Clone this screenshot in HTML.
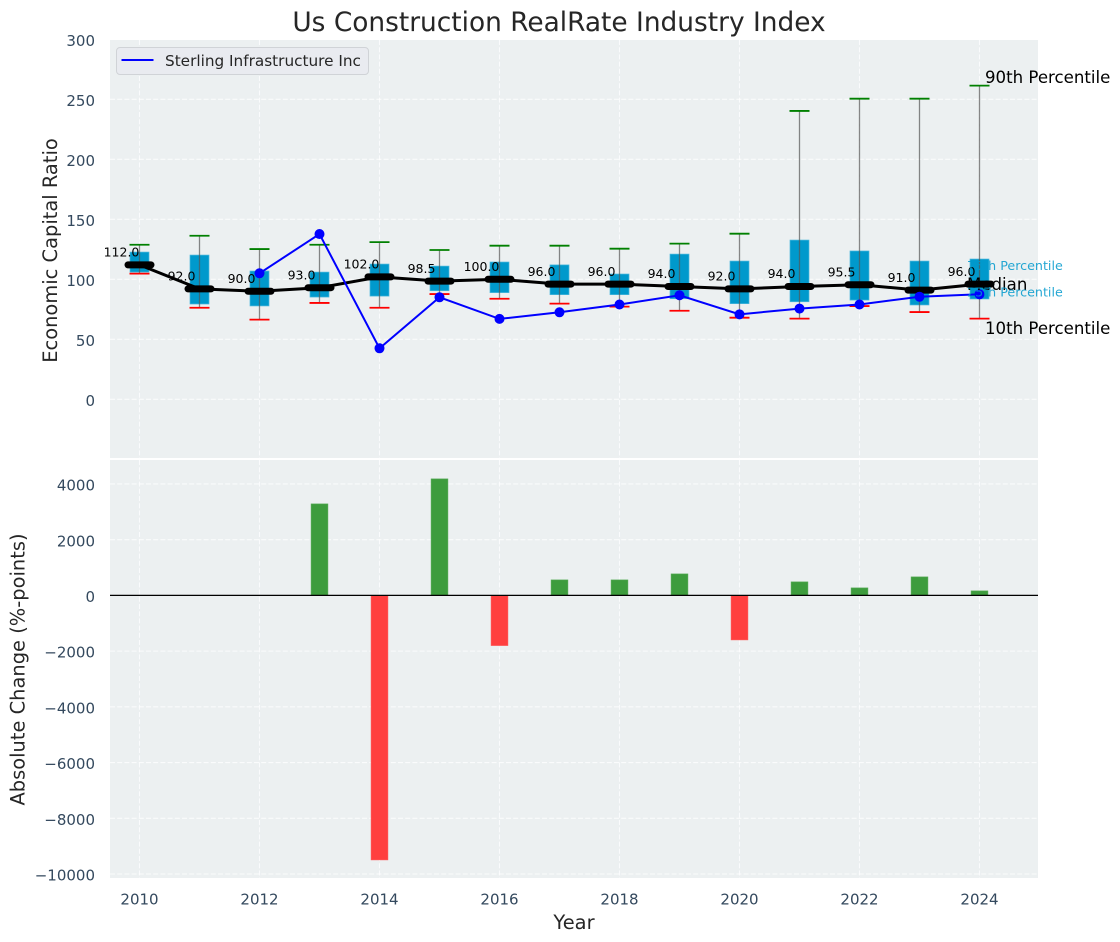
<!DOCTYPE html>
<html lang="en">
<head>
<meta charset="utf-8">
<title>Us Construction RealRate Industry Index</title>
<style>
html,body{margin:0;padding:0;background:#fff;}
svg{display:block;font-family:"DejaVu Sans","Liberation Sans",sans-serif;}
</style>
</head>
<body>
<svg id="chart" xmlns="http://www.w3.org/2000/svg" width="1120" height="942" viewBox="0 0 1120 942">
  <rect x="0" y="0" width="1120" height="942" fill="#ffffff"/>
  <rect x="110" y="40" width="928" height="418" fill="#ecf0f1"/>
  <rect x="110" y="460" width="928" height="418" fill="#ecf0f1"/>
  <g id="grid"></g>
  <g id="bars"></g>
  <line x1="110" x2="1038" y1="595.4" y2="595.4" stroke="#000" stroke-width="1.3"/>
  <g id="boxes"></g>
  <g id="median"></g>
  <g id="company"></g>
  <g id="labels"></g>
  <g id="ticks"></g>

  <text x="559" y="31" text-anchor="middle" font-size="26.4" fill="#262626">Us Construction RealRate Industry Index</text>
  <text transform="translate(57,250.5) rotate(-90)" text-anchor="middle" font-size="19.44" fill="#262626">Economic Capital Ratio</text>
  <text transform="translate(24.5,669.5) rotate(-90)" text-anchor="middle" font-size="19.44" fill="#262626">Absolute Change (%-points)</text>
  <text x="574" y="929" text-anchor="middle" font-size="19.44" fill="#262626">Year</text>

  <text x="985" y="83" font-size="16.6" fill="#000">90th Percentile</text>
  <text x="967" y="270" font-size="12.7" fill="#0099cc" fill-opacity="0.85">75th Percentile</text>
  <text x="967" y="290" font-size="16.6" fill="#000">Median</text>
  <text x="967" y="296.5" font-size="12.7" fill="#0099cc" fill-opacity="0.85">25th Percentile</text>
  <text x="985" y="334" font-size="16.6" fill="#000">10th Percentile</text>

  <g>
    <rect x="116.5" y="47.5" width="252" height="27" rx="3.5" fill="#e9ebf0" stroke="#d0d3d7" stroke-width="1"/>
    <line x1="121.5" x2="153.5" y1="60" y2="60" stroke="#0000ff" stroke-width="2"/>
    <text x="165" y="66" font-size="15.28" fill="#262626">Sterling Infrastructure Inc</text>
  </g>
</svg>
<script>
const years = [2010,2011,2012,2013,2014,2015,2016,2017,2018,2019,2020,2021,2022,2023,2024];
const p90 = [128.8,136.3,125.2,128.8,131,124.4,128,128,125.5,129.7,138,240.3,250.5,250.5,261.4];
const p75 = [122.7,120.2,106.9,106,112.7,111,114.4,112,104.4,121,115.2,132.7,123.6,115.2,116.9];
const medianValues = [112,92,90,93,102,98.5,100,96,96,94,92,94,95.5,91,96];
const p25 = [106,79.4,77.8,85.2,86,90.5,88.9,87.2,87.2,83.8,79.7,81.3,82.7,78.6,83.6];
const p10 = [104.7,76.3,66.4,80.3,76.3,87.7,83.8,79.7,77.2,73.8,68,67.2,77.7,72.7,67.2];
const companyValues = [null,null,105,137.7,42.5,85,67,72.5,79,86.7,70.8,75.6,79,85.5,87.5];
const changeValues = [0,0,0,3284,-9494,4182,-1800,556,556,771,-1597,485,269,664,162];
const xTicks = [2010,2012,2014,2016,2018,2020,2022,2024];
const yTopTicks = [0,50,100,150,200,250,300];
const yBottomTicks = [-10000,-8000,-6000,-4000,-2000,0,2000,4000];

const NS = 'http://www.w3.org/2000/svg';
const xScale = v => 139.5 + (v - 2010) * 60;
const yTop = v => 399.3 - v * 1.2;
const yBottom = v => 595.4 - v * 0.02786;

function make(parent, tag, props, text) {
  const el = document.createElementNS(NS, tag);
  for (const k in props) el.setAttribute(k, props[k]);
  if (text !== undefined) el.textContent = text;
  document.getElementById(parent).appendChild(el);
  return el;
}
const GRID = {stroke:'#ffffff','stroke-width':1.1,'stroke-dasharray':'5 2.2','stroke-opacity':0.75};
const TICK_COLOR = '#34495e';

xTicks.forEach(t => {
  [[40,458],[460,878]].forEach(r => {
    const g = make('grid','line',Object.assign({x1:xScale(t),x2:xScale(t),y1:r[0],y2:r[1]},GRID));
    
    
  });
  const l = make('ticks','text',{x:xScale(t),y:904.5,'text-anchor':'middle','font-size':15,fill:TICK_COLOR},String(t));
  
  
});
yTopTicks.forEach(t => {
  const g = make('grid','line',Object.assign({x1:110,x2:1038,y1:yTop(t),y2:yTop(t)},GRID));
  
  
  const l = make('ticks','text',{x:95,y:yTop(t)+6.6,'text-anchor':'end','font-size':15,fill:TICK_COLOR},String(t));
  
  
});
yBottomTicks.forEach(t => {
  const g = make('grid','line',Object.assign({x1:110,x2:1038,y1:yBottom(t),y2:yBottom(t)},GRID));
  
  
  const l = make('ticks','text',{x:95,y:yBottom(t)+6.6,'text-anchor':'end','font-size':15,fill:TICK_COLOR},String(t).replace('-','\u2212'));
  
  
});

years.forEach((yr, i) => {
  const v = changeValues[i];
  if (v !== 0) {
    const b = make('bars','rect',{x:xScale(yr)-8.4,width:16.8,y:Math.min(yBottom(v),yBottom(0)),height:Math.abs(yBottom(v)-yBottom(0)),fill:v>0?'#3d9c3d':'#ff3f3f',stroke:v>0?'#55aa55':'#ff5555','stroke-width':0.6});
    
    
  }
  const x = xScale(yr);
  const box = make('boxes','rect',{x:x-9.5,width:19,y:yTop(p75[i]),height:yTop(p25[i])-yTop(p75[i]),fill:'#0099cc',stroke:'#4db8dc','stroke-width':0.7});
  
  
  const w = make('boxes','line',{x1:x,x2:x,y1:yTop(p90[i]),y2:yTop(p10[i]),stroke:'#555','stroke-opacity':0.7,'stroke-width':1.3});
  
  
  const hi = make('boxes','line',{x1:x-10,x2:x+10,y1:yTop(p90[i]),y2:yTop(p90[i]),stroke:'#008000','stroke-width':1.8});
  
  
  const lo = make('boxes','line',{x1:x-10,x2:x+10,y1:yTop(p10[i]),y2:yTop(p10[i]),stroke:'#ff0000','stroke-width':1.8});
  
  
  const lab = make('labels','text',{x:x-18,y:yTop(medianValues[i])-8.3,'text-anchor':'middle','font-size':12.5,fill:'#000'},medianValues[i].toFixed(1));
  
  
});

const medianPts = years.map((yr,i) => xScale(yr) + ',' + yTop(medianValues[i])).join(' ');
const medLine = make('median','polyline',{points:medianPts,fill:'none',stroke:'#000','stroke-width':3,'stroke-linejoin':'round'});


years.forEach((yr,i) => {
  const m = make('median','line',{x1:xScale(yr)-11.5,x2:xScale(yr)+11.5,y1:yTop(medianValues[i]),y2:yTop(medianValues[i]),stroke:'#000','stroke-width':7,'stroke-linecap':'round'});
  
  
});

const companyPts = years.map((yr,i) => companyValues[i] === null ? null : xScale(yr) + ',' + yTop(companyValues[i])).filter(Boolean).join(' ');
const coLine = make('company','polyline',{points:companyPts,fill:'none',stroke:'#0000ff','stroke-width':2});


years.forEach((yr,i) => {
  if (companyValues[i] === null) return;
  const c = make('company','circle',{cx:xScale(yr),cy:yTop(companyValues[i]),r:5,fill:'#0000ff'});
  
  
});
</script>
</body>
</html>
